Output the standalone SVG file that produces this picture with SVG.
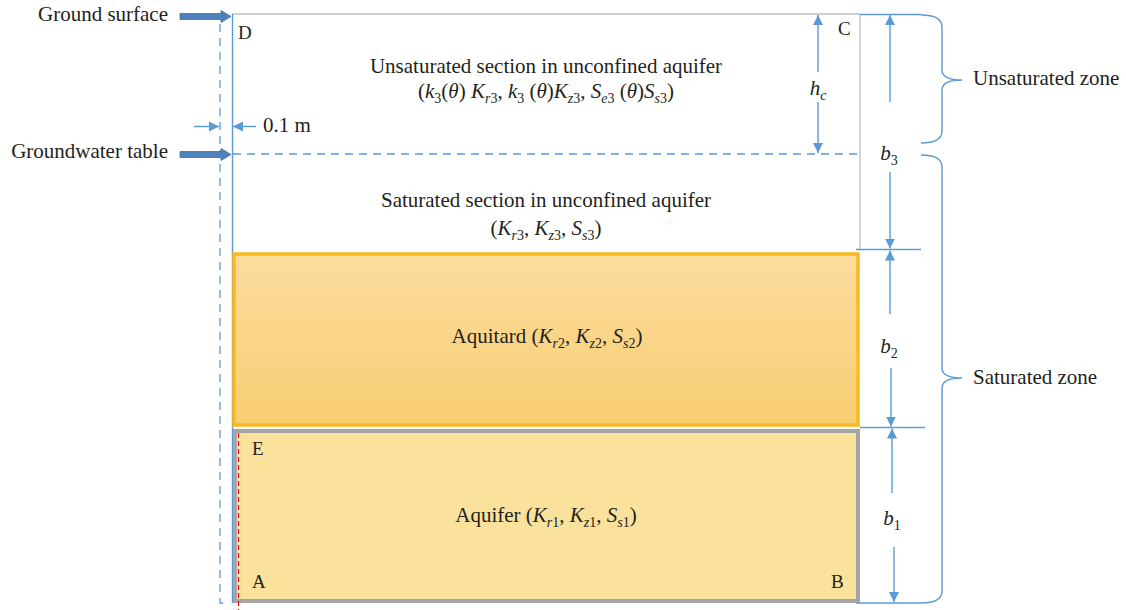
<svg xmlns="http://www.w3.org/2000/svg" width="1126" height="610" viewBox="0 0 1126 610">
<style>
.t{font-family:"Liberation Serif","Times New Roman",serif;font-size:21px;fill:#231F20}
.l{font-family:"Liberation Serif","Times New Roman",serif;font-size:19px;fill:#231F20}
.i{font-style:italic}
.s{font-size:14px}
.bl{stroke:#5B9BD5;stroke-width:1.4;fill:none}
.dash{stroke:#5B9BD5;stroke-width:1.3;fill:none;stroke-dasharray:8,6}
.gray{stroke:#BFBFBF;stroke-width:1.3;fill:none}
.blk{fill:#4F81BD;stroke:#41719C;stroke-width:0.8}
</style>
<defs>
<marker id="ah" viewBox="0 0 10 10" refX="10" refY="5" markerWidth="10" markerHeight="10" markerUnits="userSpaceOnUse" orient="auto">
<path d="M0,0 L10,5 L0,10 z" fill="#5B9BD5"/>
</marker>
<linearGradient id="gAquitard" x1="0" y1="0" x2="0" y2="1">
<stop offset="0" stop-color="#FCDC9E"/>
<stop offset="1" stop-color="#F8CE72"/>
</linearGradient>
</defs>
<rect x="0" y="0" width="1126" height="610" fill="#FFFFFF"/>

<!-- frame lines -->
<g id="frame">
<line class="gray" x1="232" y1="14" x2="860" y2="14"/>
<line class="gray" x1="860" y1="14" x2="860" y2="250"/>
<line x1="232.5" y1="14" x2="232.5" y2="603" stroke="#5B9BD5" stroke-width="1.4"/>
<path class="dash" d="M220,24 L220,603 L228,603"/>
<line class="dash" x1="233" y1="154" x2="858" y2="154"/>
</g>

<g id="aquitard">
<rect x="234" y="254" width="624" height="171" fill="url(#gAquitard)" stroke="#F7BB1E" stroke-width="3.5"/>
<text class="t" x="547" y="343" text-anchor="middle">Aquitard (<tspan class="i">K</tspan><tspan class="s" dy="5"><tspan class="i">r</tspan>2</tspan><tspan dy="-5">, </tspan><tspan class="i">K</tspan><tspan class="s" dy="5"><tspan class="i">z</tspan>2</tspan><tspan dy="-5">, </tspan><tspan class="i">S</tspan><tspan class="s" dy="5"><tspan class="i">s</tspan>2</tspan><tspan dy="-5">)</tspan></text>
</g>

<g id="aquifer">
<rect x="235" y="431" width="623" height="170" fill="#FAE29C" stroke="#A5A5A5" stroke-width="4"/>
<line x1="238.5" y1="433" x2="238.5" y2="610" stroke="#FF0000" stroke-width="1.1" stroke-dasharray="5,3"/>
<text class="t" x="546" y="522" text-anchor="middle">Aquifer (<tspan class="i">K</tspan><tspan class="s" dy="5"><tspan class="i">r</tspan>1</tspan><tspan dy="-5">, </tspan><tspan class="i">K</tspan><tspan class="s" dy="5"><tspan class="i">z</tspan>1</tspan><tspan dy="-5">, </tspan><tspan class="i">S</tspan><tspan class="s" dy="5"><tspan class="i">s</tspan>1</tspan><tspan dy="-5">)</tspan></text>
<text class="l" x="252" y="455">E</text>
<text class="l" x="252" y="588">A</text>
<text class="l" x="831" y="588">B</text>
</g>

<g id="unsaturated-section">
<text class="t" x="546" y="73" text-anchor="middle">Unsaturated section in unconfined aquifer</text>
<text class="t" x="546" y="98" text-anchor="middle">(<tspan class="i">k</tspan><tspan class="s" dy="5">3</tspan><tspan dy="-5">(</tspan><tspan class="i">θ</tspan>) <tspan class="i">K</tspan><tspan class="s" dy="5"><tspan class="i">r</tspan>3</tspan><tspan dy="-5">, </tspan><tspan class="i">k</tspan><tspan class="s" dy="5">3</tspan><tspan dy="-5"> (</tspan><tspan class="i">θ</tspan>)<tspan class="i">K</tspan><tspan class="s" dy="5"><tspan class="i">z</tspan>3</tspan><tspan dy="-5">, </tspan><tspan class="i">S</tspan><tspan class="s" dy="5"><tspan class="i">e</tspan>3</tspan><tspan dy="-5"> (</tspan><tspan class="i">θ</tspan>)<tspan class="i">S</tspan><tspan class="s" dy="5"><tspan class="i">s</tspan>3</tspan><tspan dy="-5">)</tspan></text>
<text class="l" x="238" y="39">D</text>
<text class="l" x="838" y="35">C</text>
</g>

<g id="saturated-section">
<text class="t" x="546" y="207" text-anchor="middle">Saturated section in unconfined aquifer</text>
<text class="t" x="546" y="235" text-anchor="middle">(<tspan class="i">K</tspan><tspan class="s" dy="5"><tspan class="i">r</tspan>3</tspan><tspan dy="-5">, </tspan><tspan class="i">K</tspan><tspan class="s" dy="5"><tspan class="i">z</tspan>3</tspan><tspan dy="-5">, </tspan><tspan class="i">S</tspan><tspan class="s" dy="5"><tspan class="i">s</tspan>3</tspan><tspan dy="-5">)</tspan></text>
</g>

<g id="ground-surface">
<text class="t" x="168" y="21" text-anchor="end">Ground surface</text>
<path class="blk" d="M180,13.5 L221,13.5 L221,10.5 L231,16.5 L221,22.5 L221,19.5 L180,19.5 z"/>
</g>

<g id="groundwater-table">
<text class="t" x="168" y="158" text-anchor="end">Groundwater table</text>
<path class="blk" d="M180,151.5 L221,151.5 L221,148.5 L231,154.5 L221,160.5 L221,157.5 L180,157.5 z"/>
</g>

<g id="offset-label">
<text class="t" x="263" y="132">0.1 m</text>
</g>

<g id="dimension-labels">
<text class="t" x="818" y="95" text-anchor="middle"><tspan class="i">h</tspan><tspan class="s i" dy="5">c</tspan></text>
<text class="t" x="889" y="160" text-anchor="middle"><tspan class="i">b</tspan><tspan class="s" dy="5">3</tspan></text>
<text class="t" x="889" y="353" text-anchor="middle"><tspan class="i">b</tspan><tspan class="s" dy="5">2</tspan></text>
<text class="t" x="892" y="525" text-anchor="middle"><tspan class="i">b</tspan><tspan class="s" dy="5">1</tspan></text>
</g>

<g id="unsaturated-zone">
<path class="bl" d="M921,15 Q942,15 942,27 L942,70 Q942,80 962,80 Q942,80 942,90 L942,131 Q942,143 921,143"/>
<text class="t" x="973" y="85">Unsaturated zone</text>
</g>

<g id="saturated-zone">
<path class="bl" d="M921,155 Q942,155 942,167 L942,368 Q942,378 962,378 Q942,378 942,388 L942,591 Q942,603 921,603"/>
<text class="t" x="973" y="384">Saturated zone</text>
</g>

<g id="connectors">
<!-- tick lines -->
<line class="bl" x1="860" y1="14.5" x2="921" y2="14.5"/>
<line class="bl" x1="856" y1="249.5" x2="921" y2="249.5"/>
<line class="bl" x1="860" y1="427.5" x2="925" y2="427.5"/>
<line class="bl" x1="856" y1="603" x2="921" y2="603"/>
<!-- 0.1 m -->
<line class="bl" x1="194" y1="126.5" x2="219" y2="126.5" marker-end="url(#ah)"/>
<line class="bl" x1="256" y1="126.5" x2="233" y2="126.5" marker-end="url(#ah)"/>
<!-- hc -->
<line class="bl" x1="818" y1="72" x2="818" y2="15" marker-end="url(#ah)"/>
<line class="bl" x1="818" y1="102" x2="818" y2="153" marker-end="url(#ah)"/>
<!-- b3 -->
<line class="bl" x1="890" y1="102" x2="890" y2="15" marker-end="url(#ah)"/>
<line class="bl" x1="890" y1="172" x2="890" y2="248.5" marker-end="url(#ah)"/>
<!-- b2 -->
<line class="bl" x1="890" y1="314" x2="890" y2="250.5" marker-end="url(#ah)"/>
<line class="bl" x1="891" y1="368" x2="891" y2="426.5" marker-end="url(#ah)"/>
<!-- b1 -->
<line class="bl" x1="892" y1="493" x2="892" y2="428.5" marker-end="url(#ah)"/>
<line class="bl" x1="894" y1="547" x2="894" y2="602" marker-end="url(#ah)"/>
</g>
</svg>
